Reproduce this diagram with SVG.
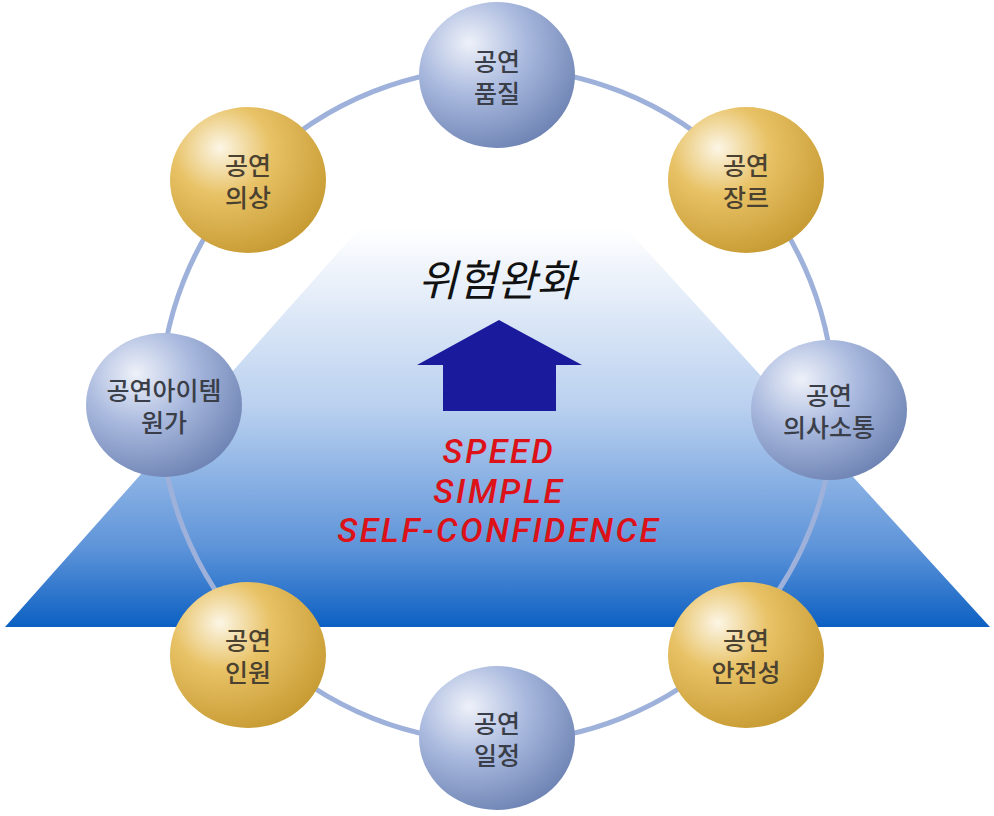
<svg xmlns="http://www.w3.org/2000/svg" width="994" height="816" viewBox="0 0 994 816">
<defs>
<linearGradient id="trap" x1="0" y1="228" x2="0" y2="627" gradientUnits="userSpaceOnUse">
<stop offset="0" stop-color="#ffffff"/>
<stop offset="0.45" stop-color="#b9d0ef"/>
<stop offset="0.8" stop-color="#5e94d9"/>
<stop offset="1" stop-color="#0c60c3"/>
</linearGradient>
<radialGradient id="gBlue" cx="0.35" cy="0.3" r="0.78" fx="0.32" fy="0.28">
<stop offset="0" stop-color="#eef1f9"/>
<stop offset="0.45" stop-color="#a9b9de"/>
<stop offset="1" stop-color="#6a80b1"/>
</radialGradient>
<radialGradient id="gGold" cx="0.35" cy="0.3" r="0.78" fx="0.32" fy="0.28">
<stop offset="0" stop-color="#fcf6e6"/>
<stop offset="0.4" stop-color="#e8c266"/>
<stop offset="1" stop-color="#c5982f"/>
</radialGradient>
<style>
.lbl{font-family:"Noto Sans CJK KR","Noto Sans",sans-serif;font-size:25px;font-weight:500;text-anchor:middle}
.bl{fill:#3a3e48}
.gd{fill:#4a4130}
.blue{fill:url(#gBlue)}
.gold{fill:url(#gGold)}
.red{font-family:Roboto,"Liberation Sans",sans-serif;font-style:italic;font-weight:500;font-size:34px;letter-spacing:2.6px;fill:#dd1118;text-anchor:middle}
</style>
</defs>
<polygon id="triangle" points="360,228 626,228 990,627 5,627" fill="url(#trap)"/>
<g id="connectors">
<circle cx="497" cy="405" r="337" fill="none" stroke="#9db1da" stroke-width="5"/>
</g>
<g id="center">
<text x="497" y="296" font-family="'Noto Sans CJK KR',sans-serif" font-size="43" font-style="italic" fill="#111" text-anchor="middle">위험완화</text>
<polygon points="499,320 582,365 556,365 556,411 443,411 443,365 417,365" fill="#1a1a9c"/>
<text class="red" x="499" y="463">SPEED</text>
<text class="red" x="499" y="503">SIMPLE</text>
<text class="red" x="499" y="542">SELF-CONFIDENCE</text>
</g>
<g id="n-quality"><ellipse class="blue" cx="497" cy="75" rx="78" ry="73"/><text class="lbl bl" x="497" y="71">공연</text><text class="lbl bl" x="497" y="103">품질</text></g>
<g id="n-genre"><ellipse class="gold" cx="746" cy="180" rx="78" ry="73"/><text class="lbl gd" x="746" y="175">공연</text><text class="lbl gd" x="746" y="207">장르</text></g>
<g id="n-comm"><ellipse class="blue" cx="829" cy="410" rx="78" ry="70"/><text class="lbl bl" x="829" y="405">공연</text><text class="lbl bl" x="829" y="437">의사소통</text></g>
<g id="n-safety"><ellipse class="gold" cx="746" cy="655" rx="78" ry="73"/><text class="lbl gd" x="746" y="650">공연</text><text class="lbl gd" x="746" y="682">안전성</text></g>
<g id="n-schedule"><ellipse class="blue" cx="497" cy="738" rx="78" ry="72"/><text class="lbl bl" x="497" y="733">공연</text><text class="lbl bl" x="497" y="765">일정</text></g>
<g id="n-people"><ellipse class="gold" cx="248" cy="655" rx="78" ry="73"/><text class="lbl gd" x="248" y="650">공연</text><text class="lbl gd" x="248" y="682">인원</text></g>
<g id="n-cost"><ellipse class="blue" cx="164" cy="405" rx="78" ry="72"/><text class="lbl bl" x="164" y="400">공연아이템</text><text class="lbl bl" x="164" y="432">원가</text></g>
<g id="n-costume"><ellipse class="gold" cx="248" cy="180" rx="78" ry="73"/><text class="lbl gd" x="248" y="175">공연</text><text class="lbl gd" x="248" y="207">의상</text></g>
</svg>
